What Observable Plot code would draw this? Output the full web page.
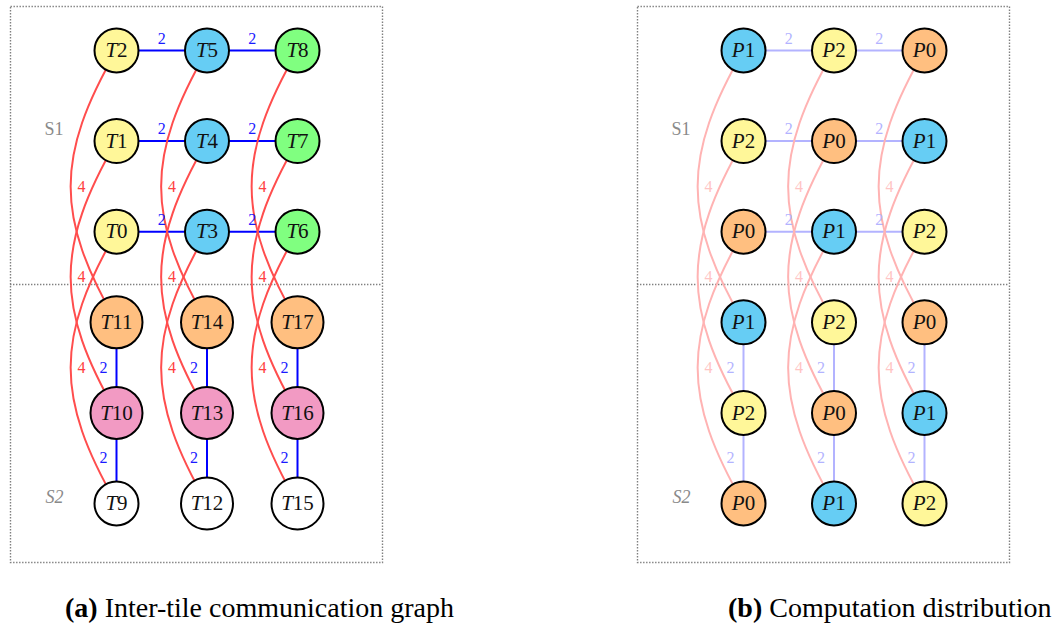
<!DOCTYPE html>
<html><head><meta charset="utf-8">
<script src="https://cdn.jsdelivr.net/npm/d3@7"></script>
<script src="https://cdn.jsdelivr.net/npm/@observablehq/plot@0.6"></script>
<style>
body{margin:0;background:#fff;}
#root{position:relative;width:1063px;height:626px;overflow:hidden;font-family:"Liberation Serif","DejaVu Serif",serif;}
.panel{position:absolute;top:0;}
.cap{position:absolute;top:594px;font-size:28px;line-height:1;white-space:nowrap;color:#000;font-family:"Liberation Serif","DejaVu Serif",serif;}
</style></head><body><div id="root"></div>
<script>
// Node labels laid out by row (top to bottom) and column (left to right)
const tileLabels = [
  ["T2","T5","T8"],
  ["T1","T4","T7"],
  ["T0","T3","T6"],
  ["T11","T14","T17"],
  ["T10","T13","T16"],
  ["T9","T12","T15"]
];
const procLabels = [
  ["P1","P2","P0"],
  ["P2","P0","P1"],
  ["P0","P1","P2"],
  ["P1","P2","P0"],
  ["P2","P0","P1"],
  ["P0","P1","P2"]
];
// Communication edges between tiles: [from, to, volume]
const commEdges = [
  ["T2","T5",2],["T5","T8",2],["T1","T4",2],["T4","T7",2],["T0","T3",2],["T3","T6",2],
  ["T11","T10",2],["T10","T9",2],["T14","T13",2],["T13","T12",2],["T17","T16",2],["T16","T15",2],
  ["T2","T11",4],["T1","T10",4],["T0","T9",4],
  ["T5","T14",4],["T4","T13",4],["T3","T12",4],
  ["T8","T17",4],["T7","T16",4],["T6","T15",4]
];
const sections = [{label:"S1", row:1}, {label:"S2", row:5}];
const captions = [
  {tag:"(a)", text:"Inter-tile communication graph"},
  {tag:"(b)", text:"Computation distribution"}
];

const SERIF = "'Liberation Serif', 'DejaVu Serif', serif";

// position lookup (row, col) of each tile
const pos = {};
tileLabels.forEach((r,row)=>r.forEach((l,col)=>{pos[l]={row,col};}));

// TikZ-like "bend right" curve between two points
function bendRight(context){
  let pts=[];
  return {
    areaStart(){}, areaEnd(){},
    lineStart(){pts=[];},
    point(x,y){pts.push([+x,+y]);},
    lineEnd(){
      const [[x0,y0],[x1,y1]]=pts;
      const dx=x1-x0, dy=y1-y0, d=Math.hypot(dx,dy), a=Math.atan2(dy,dx), b=Math.PI/6, L=0.45*d;
      context.moveTo(x0,y0);
      context.bezierCurveTo(x0+L*Math.cos(a+b), y0+L*Math.sin(a+b), x1-L*Math.cos(a-b), y1-L*Math.sin(a-b), x1, y1);
    }
  };
}

function panel(labels, fill, colorDomain, colorRange, faded){
  const nodes = labels.flatMap((r,row)=>r.map((label,col)=>({label,row,col})));
  const edges = commEdges.map(([s,t,w])=>({a:pos[s], b:pos[t], w}));
  const hor = edges.filter(e=>e.w===2 && e.a.row===e.b.row);
  const ver = edges.filter(e=>e.w===2 && e.a.col===e.b.col);
  const cur = edges.filter(e=>e.w===4);
  const blue = faded ? "#b3b3ff" : "#0000ff";
  const red = faded ? "#ffb3b3" : "#ff4d4d";
  const blueT = faded ? "#b3b3ff" : "#1a1aff";
  const redT = faded ? "#ffc4c4" : "#ff4040";
  const link = {x1:d=>d.a.col, y1:d=>d.a.row, x2:d=>d.b.col, y2:d=>d.b.row};
  return Plot.plot({
    width:392, height:570, marginLeft:10, marginRight:10, marginTop:6, marginBottom:8,
    style:{fontFamily:SERIF, background:"transparent"},
    x:{domain:[0,2], range:[116,297], axis:null},
    y:{domain:[0,5], range:[50,503], axis:null},
    r:{type:"identity"},
    color:{domain:colorDomain, range:colorRange},
    marks:[
      Plot.frame({stroke:"#808080", strokeWidth:1.4, strokeDasharray:"1.4,1.6"}),
      Plot.ruleY([2.5], {dy:7.5, stroke:"#808080", strokeWidth:1.4, strokeDasharray:"1.4,1.6"}),
      Plot.text(sections.slice(0,1), {frameAnchor:"left", y:"row", text:"label", dx:34, dy:-12, fill:"#8a8a8a", fontSize:18, fontFamily:SERIF}),
      Plot.text(sections.slice(1), {frameAnchor:"left", y:"row", text:"label", dx:35, dy:-6, fill:"#8a8a8a", fontSize:18, fontStyle:"italic", fontFamily:SERIF}),
      Plot.link(hor, {...link, stroke:blue, strokeWidth:2}),
      Plot.link(ver, {...link, stroke:blue, strokeWidth:2}),
      Plot.link(cur, {...link, curve:bendRight, stroke:red, strokeWidth:2}),
      Plot.text(hor, {x:d=>(d.a.col+d.b.col)/2, y:d=>d.a.row, text:d=>String(d.w), dy:-12, fill:blueT, fontSize:16, fontFamily:SERIF}),
      Plot.text(ver, {x:d=>d.a.col, y:d=>(d.a.row+d.b.row)/2, text:d=>String(d.w), dx:-13, fill:blueT, fontSize:16, fontFamily:SERIF}),
      Plot.text(cur, {x:d=>d.a.col, y:d=>(d.a.row+d.b.row)/2, text:d=>String(d.w), dx:-35, fill:redT, fontSize:16, fontFamily:SERIF}),
      Plot.dot(nodes, {x:"col", y:"row", r:d=>d.label.length>2?26:22, fill, stroke:"#000", strokeWidth:2}),
      Plot.text(nodes, {x:"col", y:"row", text:"label", fontSize:21, fill:"#111", fontFamily:SERIF})
    ]
  });
}

const tileFill = d => d.row < 3 ? "col"+d.col : "row"+d.row;
const svgA = panel(tileLabels, tileFill,
  ["col0","col1","col2","row3","row4","row5"],
  ["#fff799","#66cdf4","#80ff80","#ffbf80","#f29ac3","#ffffff"], false);
const svgB = panel(procLabels, d=>d.label,
  ["P0","P1","P2"], ["#ffbf80","#66cdf4","#fff799"], true);

// italic letter, upright digits (math style)
for (const svg of [svgA, svgB]) {
  d3.select(svg).selectAll("text").each(function(){
    const t = this.textContent;
    if (/^[TP]\d+$/.test(t)) {
      const s = d3.select(this); s.text(null);
      s.append("tspan").attr("font-style","italic").text(t[0]);
      s.append("tspan").text(t.slice(1));
    }
  });
}

const root = document.getElementById("root");
const wa = document.createElement("div"); wa.className="panel"; wa.style.left="0px"; wa.appendChild(svgA); root.appendChild(wa);
const wb = document.createElement("div"); wb.className="panel"; wb.style.left="627px"; wb.appendChild(svgB); root.appendChild(wb);
const capX = [65, 728];
captions.forEach((c,i)=>{
  const el = document.createElement("div"); el.className="cap"; el.style.left=capX[i]+"px";
  const b = document.createElement("b"); b.textContent = c.tag; el.appendChild(b);
  el.appendChild(document.createTextNode(" " + c.text));
  root.appendChild(el);
});
</script></body></html>
